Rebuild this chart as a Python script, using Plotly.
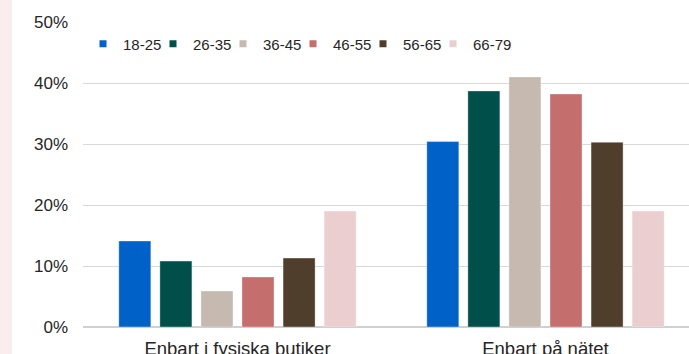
import plotly.graph_objects as go

categories = ["Enbart i fysiska butiker", "Enbart på nätet"]
age_groups = ["18-25", "26-35", "36-45", "46-55", "56-65", "66-79"]
values = {
    "18-25": [14.1, 30.4],
    "26-35": [10.8, 38.7],
    "36-45": [5.9, 41.0],
    "46-55": [8.2, 38.2],
    "56-65": [11.3, 30.3],
    "66-79": [19.0, 19.0],
}
colors = ["#0062C9", "#004F4B", "#C6B9B0", "#C46E6D", "#4F3E2B", "#EACED0"]
y_ticks = [0, 10, 20, 30, 40, 50]
y_tick_text = ["0%", "10%", "20%", "30%", "40%", "50%"]

W, H = 689, 354
L, R, T, B = 83, 0, 22, 27
plot_w = W - L - R

fig = go.Figure()
for name, col in zip(age_groups, colors):
    fig.add_trace(go.Bar(
        x=categories, y=values[name], name=name, legendgroup=name,
        marker=dict(color=col, line=dict(color="rgba(255,255,255,0.6)", width=0.6)),
        showlegend=False,
    ))
for name, col in zip(age_groups, colors):
    fig.add_trace(go.Scatter(
        x=[None], y=[None], mode="markers", name=name, legendgroup=name,
        marker=dict(symbol="square", size=7, color=col),
        showlegend=True,
    ))
# blank spacer entry so the last legend label is not clipped
fig.add_trace(go.Scatter(
    x=[None], y=[None], mode="markers", name=" ",
    marker=dict(symbol="square", size=7, color="rgba(0,0,0,0)"),
    showlegend=True, hoverinfo="skip",
))

fig.update_layout(
    width=W, height=H,
    margin=dict(l=L, r=R, t=T, b=B, pad=0),
    paper_bgcolor="white", plot_bgcolor="white",
    font=dict(family="Arial, Liberation Sans, sans-serif", color="#262626"),
    barmode="group", bargap=0.2, bargroupgap=0.22,
    showlegend=True,
    legend=dict(
        orientation="h", x=0, xanchor="left",
        y=(H - B - 44) / (H - T - B), yanchor="middle",
        font=dict(size=15, color="#262626"),
        entrywidth=25, entrywidthmode="pixels",
        itemwidth=30, bgcolor="rgba(0,0,0,0)", tracegroupgap=0,
    ),
    xaxis=dict(
        type="category", range=[-0.5016, 1.466],
        showgrid=False, zeroline=False, showline=False, automargin=False,
        tickfont=dict(size=18.5, color="#262626"), ticks="", ticklabelstandoff=8,
    ),
    yaxis=dict(
        range=[0, 50], tickvals=y_ticks, ticktext=y_tick_text,
        showgrid=True, gridcolor="#D9D9D9", gridwidth=1,
        zeroline=True, zerolinecolor="#D0D0D0", zerolinewidth=1.5,
        showline=False, ticks="", automargin=False,
        tickfont=dict(size=17, color="#262626"), ticklabelstandoff=14,
    ),
    shapes=[dict(
        type="rect", xref="paper", yref="paper",
        x0=-L / plot_w, x1=(12 - L) / plot_w,
        y0=-B / (H - T - B), y1=(H - B) / (H - T - B),
        fillcolor="#F9EDEE", line=dict(width=0), layer="below",
    )],
)

fig.write_html("out.html")
